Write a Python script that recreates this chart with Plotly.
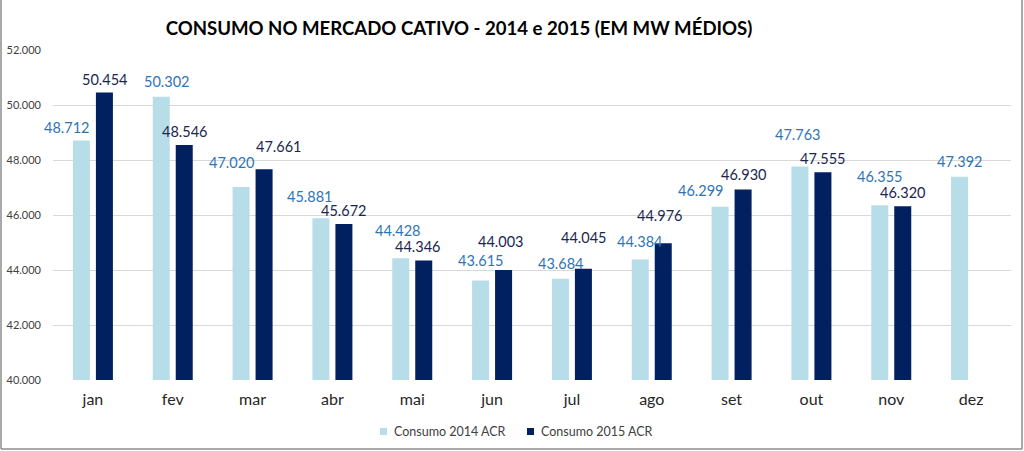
import plotly.graph_objects as go

months = ["jan", "fev", "mar", "abr", "mai", "jun", "jul", "ago", "set", "out", "nov", "dez"]
consumo_2014 = [48712, 50302, 47020, 45881, 44428, 43615, 43684, 44384, 46299, 47763, 46355, 47392]
consumo_2015 = [50454, 48546, 47661, 45672, 44346, 44003, 44045, 44976, 46930, 47555, 46320]
series_names = ["Consumo 2014 ACR", "Consumo 2015 ACR"]

# label nudges (pixels) relative to bar centre / bar top
dx_2014 = [-15, 5, -10, -11, -3, 0, 0, -1, -20, -2, 0, 0]
dy_2014 = [13, 15, 24, 22, 28, 20, 15, 18, 16, 32, 29, 15]
dx_2015 = [0, 0, 14, 0, -6, -3, 0, -4, 0, 0, 0]
dy_2015 = [13, 13, 23, 14, 14, 28, 31, 28, 15, 14, 14]

C_LIGHT = "#B7DEE8"
C_DARK = "#002060"
C_LBL_LIGHT = "#2E75B6"
C_LBL_DARK = "#1A2550"
FONT = "Lato"

def fmt(v):
    return f"{v:,}".replace(",", ".")

fig = go.Figure()
fig.add_trace(go.Bar(x=months, y=consumo_2014, name=series_names[0],
                     marker_color=C_LIGHT, marker_line_width=0))
fig.add_trace(go.Bar(x=months[:len(consumo_2015)], y=consumo_2015, name=series_names[1],
                     marker_color=C_DARK, marker_line_width=0))

ann = []
for m, v, dx, dy in zip(months, consumo_2014, dx_2014, dy_2014):
    ann.append(dict(x=m, y=v, xref="x", yref="y", text=fmt(v), showarrow=False,
                    xshift=-11.5 + dx, yshift=dy, yanchor="middle", xanchor="center",
                    font=dict(family=FONT, size=14.5, color=C_LBL_LIGHT)))
for m, v, dx, dy in zip(months, consumo_2015, dx_2015, dy_2015):
    ann.append(dict(x=m, y=v, xref="x", yref="y", text=fmt(v), showarrow=False,
                    xshift=11.5 + dx, yshift=dy, yanchor="middle", xanchor="center",
                    font=dict(family=FONT, size=14.5, color=C_LBL_DARK)))

L, R, T, B = 53, 13, 50, 71
pw, ph = 1024 - L - R, 451 - T - B

def px_x(p):
    return (p - L) / pw

def px_y(p):
    return (451 - B - p) / ph

frame = dict(color="#8C8C8C", width=1.5)
shapes = [
    dict(type="line", xref="paper", yref="paper", x0=px_x(1), x1=px_x(1), y0=px_y(0), y1=px_y(449), line=frame),
    dict(type="line", xref="paper", yref="paper", x0=px_x(1), x1=px_x(1022), y0=px_y(449), y1=px_y(449), line=frame),
    dict(type="line", xref="paper", yref="paper", x0=px_x(1022), x1=px_x(1022), y0=px_y(0), y1=px_y(449), line=frame),
]

# manual legend (square swatch + text)
legend_items = [(380, 392, C_LIGHT), (527, 539, C_DARK)]
for (sx, tx, col), name in zip(legend_items, series_names):
    shapes.append(dict(type="rect", xref="paper", yref="paper",
                       x0=px_x(sx), x1=px_x(sx + 7), y0=px_y(435), y1=px_y(428),
                       fillcolor=col, line=dict(width=0)))
    ann.append(dict(xref="paper", yref="paper", x=px_x(tx), y=px_y(431.5), text=name,
                    showarrow=False, xanchor="left", yanchor="middle",
                    font=dict(family=FONT, size=12.5, color="#404040")))

fig.update_layout(
    width=1024, height=451,
    margin=dict(l=L, r=R, t=T, b=B, autoexpand=False),
    paper_bgcolor="white", plot_bgcolor="white",
    separators=",.",
    showlegend=False,
    barmode="group", bargap=0.424, bargroupgap=0.26,
    title=dict(text="<b>CONSUMO NO MERCADO CATIVO - 2014 e 2015 (EM MW MÉDIOS)</b>",
               xref="container", yref="container", x=459 / 1024, y=1 - 28.5 / 451,
               xanchor="center", yanchor="middle",
               font=dict(family=FONT, size=18.6, color="black")),
    font=dict(family=FONT),
    xaxis=dict(range=[-0.5, len(months) - 0.5], autorange=False,
               showgrid=False, showline=False, ticks="", ticklabelstandoff=8,
               tickfont=dict(family=FONT, size=16, color="#262626")),
    yaxis=dict(range=[40000, 52000], dtick=2000, tickformat=",d", showgrid=True,
               gridcolor="#D9D9D9", gridwidth=1, zeroline=False, showline=False,
               ticks="", ticklabelstandoff=11,
               tickfont=dict(family=FONT, size=11, color="#404040")),
    annotations=ann,
    shapes=shapes,
)

fig.write_html("out.html", config={"displayModeBar": False},
               post_script="document.body.style.margin='0';document.body.style.overflow='hidden';")
